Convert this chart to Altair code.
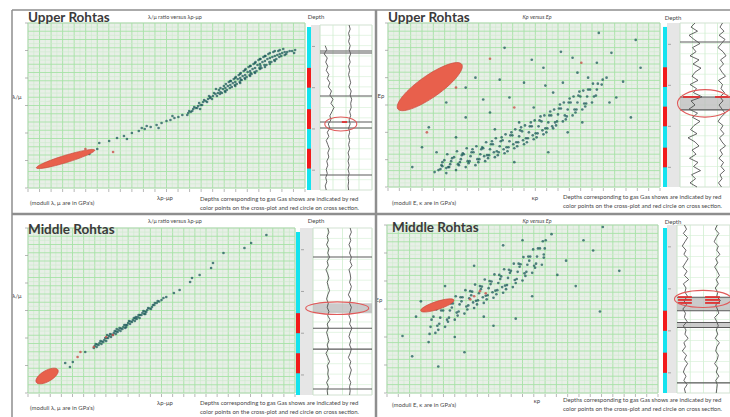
import altair as alt
import numpy as np
import pandas as pd

FONT = "Lato"

# ---------------- shared domains ----------------
XDOM = [0, 28]
YDOM = [0, 16.5]
DDOM = [0, 100]
LDOM = [0, 100]

XGRID = list(np.linspace(0, 28, 25))
XGRID_MINOR = [(a + b) / 2 for a, b in zip(XGRID[:-1], XGRID[1:])]
YGRID = list(np.linspace(0, 16.5, 21))
YGRID_MINOR = [(a + b) / 2 for a, b in zip(YGRID[:-1], YGRID[1:])]
YTICKS = list(np.linspace(0, 16.5, 7))
LGRID_V = [0, 25, 50, 75, 100]
LGRID_H = list(np.linspace(0, 100, 17))
DTICKS = [13, 38, 63, 88]

DEPTH = [0, 2.5, 5, 7.5, 10, 12.5, 15, 17.5, 20, 22.5, 25, 27.5, 30, 32.5, 35, 37.5,
         40, 42.5, 45, 47.5, 50, 52.5, 55, 57.5, 60, 62.5, 65, 67.5, 70, 72.5, 75,
         77.5, 80, 82.5, 85, 87.5, 90, 92.5, 95, 97.5, 100]

# ---------------- panel A : Upper Rohtas, lambda/mu vs lambda-rho - mu-rho ----------------
A_PTS = [[7.2, 4.5], [8.2, 4.7], [9.0, 5.0], [9.7, 5.2], [10.5, 5.5], [11.2, 5.7], [11.8, 5.9],
         [12.4, 6.1], [13.0, 6.3], [13.5, 6.5], [14.0, 6.7], [14.4, 6.8], [14.8, 7.0], [15.2, 7.1],
         [15.6, 7.3], [12.0, 6.2], [13.2, 6.0], [14.6, 7.2], [7.0, 3.9], [6.2, 3.4], [10.0, 4.9], [11.5, 6.0],
         [16.2, 7.5], [16.1, 7.3], [16.3, 7.7], [16.7, 7.9], [16.6, 7.7], [16.8, 8.1],
         [17.2, 8.2], [17.1, 8.0], [17.3, 8.5], [17.4, 7.9], [17.7, 8.6], [17.6, 8.3], [17.8, 8.8],
         [18.2, 8.9], [18.1, 8.6], [18.3, 9.2], [18.4, 9.0], [18.7, 9.2], [18.6, 8.9], [18.8, 9.5],
         [19.2, 9.5], [19.1, 9.2], [19.3, 9.8], [19.4, 9.4], [19.0, 9.9],
         [19.7, 9.9], [19.6, 9.5], [19.8, 10.2], [19.9, 9.7],
         [20.2, 10.2], [20.1, 9.8], [20.3, 10.6], [20.4, 10.0], [20.0, 10.4],
         [20.7, 10.5], [20.6, 10.1], [20.8, 10.9], [20.9, 10.3], [20.5, 10.7],
         [21.2, 10.9], [21.1, 10.4], [21.3, 11.3], [21.4, 10.6], [21.0, 11.1], [21.5, 10.8],
         [21.7, 11.2], [21.6, 10.8], [21.8, 11.7], [21.9, 11.0], [21.5, 11.5],
         [22.2, 11.6], [22.1, 11.1], [22.3, 12.1], [22.4, 11.3], [22.0, 11.9], [22.5, 11.5],
         [22.7, 11.9], [22.6, 11.4], [22.8, 12.4], [22.9, 11.6], [22.5, 12.2],
         [23.2, 12.3], [23.1, 11.7], [23.3, 12.8], [23.4, 12.0], [23.0, 12.6], [23.5, 12.2],
         [23.7, 12.6], [23.6, 12.0], [23.8, 13.1], [23.9, 12.3], [23.5, 12.9],
         [24.2, 12.9], [24.1, 12.3], [24.3, 13.4], [24.4, 12.6], [24.0, 13.2],
         [24.7, 13.1], [24.6, 12.6], [24.8, 13.6], [24.9, 12.8],
         [25.2, 13.3], [25.1, 12.9], [25.3, 13.7], [25.4, 13.1],
         [25.7, 13.5], [25.6, 13.2], [25.8, 13.9], [26.2, 13.6], [26.1, 13.4], [26.7, 13.7],
         [16.45, 7.6], [16.95, 8.0], [17.45, 8.3], [17.95, 8.7], [18.45, 9.1], [18.95, 9.4],
         [19.45, 9.6], [19.45, 10.0], [19.95, 10.0], [19.95, 9.6], [20.45, 10.3], [20.45, 10.7],
         [20.95, 10.6], [20.95, 11.0], [20.95, 10.2], [21.45, 11.0], [21.45, 11.4], [21.45, 10.5],
         [21.95, 11.3], [21.95, 11.8], [21.95, 10.9], [22.45, 11.7], [22.45, 12.2], [22.45, 11.2],
         [22.95, 12.0], [22.95, 12.5], [22.95, 11.5], [23.45, 12.4], [23.45, 12.9], [23.45, 11.9],
         [23.95, 12.7], [23.95, 13.2], [23.95, 12.1], [24.45, 13.0], [24.45, 13.5], [24.45, 12.4],
         [24.95, 13.2], [24.95, 13.7], [24.95, 12.7], [25.45, 13.4], [25.45, 13.8], [25.95, 13.6],
         [25.95, 13.3], [26.45, 13.7], [27.0, 13.8], [26.9, 13.5]]
A_RED = [[5.8, 3.9], [8.6, 3.6]]
A_ELL = [3.8, 2.9]
A_GAS = [[26, 38], [51, 63], [75, 87]]
A_LOG1 = [None, None, None, None, None, 10, 13, 8, 14, 11, 15, 12, 17, 14, 19, 16, 22, 19, 25, 21,
          27, 23, 19, 21, 16, 19, 14, 17, 12, 15, 18, 15, 17, 13, 15, 12, 14, 11, 13, 10, 12]
A_LOG2 = [56, 58, 55, 57, 55, 58, 56, 59, 56, 58, 55, 57, 55, 57, 59, 56, 60, 58, 61, 59,
          60, 57, 59, 56, 58, 55, 57, 55, 57, 55, 57, 54, 56, 54, 56, 54, 56, 54, 55, 54, 55]
A_MARKS = [15.8, 17, 43, 58.8, 62.4, 90.9]
A_BANDS = []
A_REDSEG = [[58.8, 42, 52]]
A_LELL = [40, 60]

# ---------------- panel B : Upper Rohtas, K-rho vs E-rho ----------------
B_PTS = [[5.2, 1.7], [5.6, 2.1], [4.8, 1.5], [6.0, 1.9],
         [5.5, 2.2], [5.6, 2.5], [5.4, 1.8], [6.5, 2.6], [6.4, 2.3], [6.6, 2.9], [6.3, 2.0],
         [7.5, 2.8], [7.4, 2.5], [7.6, 3.2], [7.3, 2.2], [7.7, 3.4],
         [8.5, 3.1], [8.4, 2.6], [8.6, 3.5], [8.3, 2.4], [8.7, 3.8],
         [9.5, 3.3], [9.4, 2.8], [9.6, 3.8], [9.3, 2.5], [9.7, 4.0], [9.9, 3.1],
         [10.5, 3.8], [10.4, 3.2], [10.6, 4.3], [10.3, 2.9], [10.7, 4.6], [10.9, 3.5],
         [11.5, 4.1], [11.4, 3.5], [11.6, 4.6], [11.3, 3.2], [11.7, 5.0], [11.9, 3.8],
         [12.5, 4.6], [12.4, 4.0], [12.6, 5.2], [12.3, 3.6], [12.7, 5.5], [12.9, 4.3],
         [13.5, 5.1], [13.4, 4.5], [13.6, 5.7], [13.3, 4.1], [13.7, 6.0], [13.9, 4.7],
         [14.5, 5.5], [14.4, 4.9], [14.6, 6.1], [14.3, 4.5], [14.7, 6.5], [14.9, 5.2],
         [15.5, 6.1], [15.4, 5.4], [15.6, 6.7], [15.3, 5.0], [15.7, 7.1], [15.9, 5.7],
         [16.5, 6.5], [16.4, 5.9], [16.6, 7.2], [16.3, 5.5], [16.7, 7.6], [16.9, 6.1],
         [17.5, 7.3], [17.4, 6.6], [17.6, 7.9], [17.3, 6.2], [17.7, 8.3],
         [18.5, 7.8], [18.4, 7.1], [18.6, 8.5], [18.3, 6.8], [18.7, 8.9],
         [19.5, 8.5], [19.4, 7.8], [19.6, 9.2], [19.3, 7.5], [19.7, 9.6],
         [20.5, 9.1], [20.4, 8.4], [20.6, 9.8], [20.3, 8.1], [21.5, 9.8], [21.4, 9.2], [21.6, 10.4],
         [22.0, 10.3], [22.1, 10.8],
         [6.0, 1.4], [6.2, 2.0], [5.8, 2.7], [6.1, 3.3], [7.0, 1.7], [7.2, 2.3], [6.8, 3.0], [7.1, 3.6],
         [8.0, 2.0], [8.2, 2.6], [7.8, 3.3], [8.1, 3.9], [9.0, 2.2], [9.2, 2.8], [8.8, 3.5], [9.1, 4.1],
         [10.0, 2.6], [10.2, 3.2], [9.8, 3.9], [10.1, 4.5], [11.0, 3.0], [11.2, 3.6], [10.8, 4.3], [11.1, 4.9],
         [12.0, 3.4], [12.2, 4.0], [11.8, 4.7], [12.1, 5.3], [13.0, 3.9], [13.2, 4.5], [12.8, 5.2], [13.1, 5.8],
         [14.0, 4.3], [14.2, 4.9], [13.8, 5.6], [14.1, 6.2], [15.0, 4.8], [15.2, 5.4], [14.8, 6.1], [15.1, 6.7],
         [16.0, 5.3], [16.2, 5.9], [15.8, 6.6], [16.1, 7.2], [17.0, 5.9], [17.2, 6.5], [16.8, 7.2], [17.1, 7.8],
         [18.0, 6.6], [18.2, 7.2], [17.8, 7.9], [18.1, 8.5], [19.0, 7.2], [19.2, 7.8], [18.8, 8.5], [19.1, 9.1],
         [20.0, 7.8], [20.2, 8.4], [19.8, 9.1], [20.1, 9.7], [21.0, 8.5], [21.2, 9.1], [20.8, 9.8], [21.1, 10.4],
         [3.5, 4.0], [4.2, 6.0], [5.0, 3.5], [6.0, 8.5], [7.0, 5.0], [8.0, 7.0], [9.0, 11.0],
         [10.5, 7.5], [11.0, 5.8], [12.5, 9.0], [13.5, 6.5], [14.0, 10.5], [15.0, 8.0], [16.0, 12.0],
         [17.0, 9.5], [18.0, 10.5], [18.5, 5.5], [19.5, 11.5], [20.0, 6.5], [21.5, 12.5], [22.5, 11.0],
         [23.5, 9.0], [24.2, 10.6], [25.5, 14.8], [21.7, 15.5], [23.0, 13.5], [26.0, 12.0], [19.0, 13.0],
         [12.0, 14.0], [8.0, 10.0], [25.0, 7.0], [2.5, 2.0], [16.5, 3.5], [13.0, 2.5],
         [14.8, 12.8], [17.8, 13.6], [20.6, 11.0], [22.8, 8.5], [16.2, 10.2], [11.5, 10.8], [9.8, 8.8]]
B_RED = [[10.5, 12.9], [19.9, 12.5], [7.0, 10.0], [4.0, 5.5], [13.0, 8.0]]
B_ELL = [4.3, 10.1]
B_GAS = [[27, 39], [51, 63], [76, 88]]
B_LOG1 = [30, 22, 35, 18, 28, 40, 25, 32, 20, 38, 26, 42, 30, 24, 36, 20, 33, 27, 44, 22,
          30, 18, 35, 25, 40, 28, 21, 34, 16, 30, 38, 24, 32, 19, 36, 27, 41, 23, 31, 20, 34]
B_LOG2 = [85, 80, 88, 78, 90, 83, 76, 86, 92, 81, 87, 79, 84, 91, 77, 85, 82, 89, 80, 86,
          78, 84, 90, 82, 76, 86, 81, 88, 79, 84, 91, 80, 85, 78, 87, 82, 89, 80, 84, 77, 83]
B_MARKS = [11.6, 45.1, 53]
B_BANDS = [[45.1, 53]]
B_REDSEG = [[45.1, 6, 40], [45.1, 70, 100]]
B_LELL = [50, 49]

# ---------------- panel C : Middle Rohtas, lambda/mu vs lambda-rho - mu-rho ----------------
C_PTS = [[3.9, 3.0], [4.4, 2.6], [4.7, 3.1], [6.0, 4.1],
         [7.0, 4.7], [7.1, 4.9], [6.9, 4.5], [7.2, 4.6], [7.5, 5.0], [7.6, 5.2], [7.4, 4.8], [7.7, 4.9],
         [8.0, 5.3], [8.1, 5.5], [7.9, 5.1], [8.2, 5.2], [8.5, 5.7], [8.6, 5.9], [8.4, 5.5], [8.7, 5.6],
         [9.0, 6.0], [9.1, 6.2], [8.9, 5.8], [9.2, 5.9], [9.5, 6.3], [9.6, 6.5], [9.4, 6.1], [9.7, 6.2],
         [10.0, 6.6], [10.1, 6.8], [9.9, 6.4], [10.2, 6.5], [10.5, 7.0], [10.6, 7.2], [10.4, 6.8], [10.7, 6.9],
         [11.0, 7.3], [11.1, 7.5], [10.9, 7.1], [11.2, 7.2], [11.5, 7.6], [11.6, 7.8], [11.4, 7.4], [11.7, 7.5],
         [12.0, 8.0], [12.1, 8.2], [11.9, 7.8], [12.2, 7.9], [12.5, 8.3], [12.6, 8.5], [12.4, 8.1],
         [13.0, 8.6], [13.1, 8.8], [12.9, 8.4], [13.5, 9.0], [13.6, 9.2], [14.0, 9.3], [14.5, 9.6], [14.2, 9.5],
         [7.25, 4.85], [7.75, 5.15], [8.25, 5.5], [8.75, 5.85], [9.25, 6.15], [9.75, 6.45], [10.25, 6.8],
         [10.75, 7.15], [11.25, 7.45], [11.75, 7.8], [12.25, 8.15], [12.75, 8.45], [13.25, 8.8], [13.75, 9.15],
         [8.3, 5.8], [9.3, 6.4], [10.3, 6.6], [11.3, 7.6], [12.3, 7.9], [13.3, 9.0],
         [15.9, 10.3], [17.2, 11.5], [17.0, 11.1], [19.2, 12.5], [19.4, 13.0], [20.5, 14.0], [22.7, 14.5],
         [23.4, 15.0], [25.0, 15.8], [18.0, 11.8], [15.3, 10.0]]
C_RED = [[5.2, 3.6], [5.5, 4.1], [6.9, 4.6], [8.2, 5.6], [8.9, 5.8]]
C_ELL = [2.0, 1.7]
C_GAS = [[51, 63], [75, 87]]
C_LOG1 = [25, 27, 24, 26, 23, 27, 25, 28, 24, 26, 22, 25, 27, 24, 26, 28, 25, 23, 26, 24,
          27, 25, 29, 24, 26, 23, 25, 27, 24, 26, 22, 25, 28, 24, 26, 25, 27, 23, 26, 24, 25]
C_LOG2 = [63, 65, 62, 64, 61, 64, 62, 65, 63, 66, 61, 63, 64, 62, 65, 63, 60, 64, 62, 65,
          63, 61, 64, 62, 66, 63, 61, 64, 62, 65, 63, 60, 64, 62, 65, 63, 61, 64, 62, 63, 62]
C_MARKS = [17.4, 60, 72.5, 96.4]
C_BANDS = [[45, 51]]
C_REDSEG = []
C_LELL = [41, 48]

# ---------------- panel D : Middle Rohtas, K-rho vs E-rho ----------------
D_PTS = [[4.5, 6.5], [4.6, 7.2], [4.4, 5.8], [5.5, 7.4], [5.4, 6.8], [5.6, 8.1], [5.3, 6.2],
         [6.5, 8.1], [6.4, 7.4], [6.6, 8.8], [6.3, 7.0], [6.7, 8.4],
         [7.5, 8.7], [7.4, 8.0], [7.6, 9.4], [7.3, 7.6], [7.7, 9.0],
         [8.5, 9.3], [8.4, 8.6], [8.6, 10.0], [8.3, 8.2], [8.7, 9.6], [8.9, 8.9],
         [9.5, 9.8], [9.4, 9.1], [9.6, 10.5], [9.3, 8.7], [9.7, 10.2], [9.9, 9.4],
         [10.5, 10.3], [10.4, 9.6], [10.6, 11.0], [10.3, 9.2], [10.7, 10.7], [10.9, 9.9],
         [11.5, 10.8], [11.4, 10.1], [11.6, 11.6], [11.3, 9.7], [11.7, 11.2], [11.9, 10.4],
         [12.5, 11.3], [12.4, 10.6], [12.6, 12.1], [12.3, 10.2], [12.7, 11.8],
         [13.5, 11.9], [13.4, 11.2], [13.6, 12.7], [13.3, 10.8], [13.7, 12.4],
         [14.5, 12.6], [14.4, 11.9], [14.6, 13.4], [14.3, 11.5], [14.7, 13.0],
         [15.5, 13.4], [15.4, 12.7], [15.6, 14.2], [15.3, 12.3], [16.3, 14.2], [16.2, 13.6], [16.4, 15.0],
         [5.0, 5.9], [5.2, 6.6], [4.8, 7.5], [5.1, 8.2], [6.0, 6.5], [6.2, 7.2], [5.8, 8.1], [6.1, 8.8],
         [7.0, 7.2], [7.2, 7.9], [6.8, 8.8], [7.1, 9.5], [8.0, 7.8], [8.2, 8.5], [7.8, 9.4], [8.1, 10.1],
         [9.0, 8.35], [9.2, 9.05], [8.8, 9.95], [9.1, 10.65], [10.0, 8.85], [10.2, 9.55], [9.8, 10.45], [10.1, 11.15],
         [11.0, 9.35], [11.2, 10.05], [10.8, 10.95], [11.1, 11.65], [12.0, 9.85], [12.2, 10.55], [11.8, 11.45],
         [12.1, 12.15], [13.0, 10.4], [13.2, 11.1], [12.8, 12.0], [13.1, 12.7], [14.0, 11.05], [14.2, 11.75],
         [13.8, 12.65], [14.1, 13.35], [15.0, 11.8], [15.2, 12.5], [14.8, 13.4], [15.1, 14.1],
         [16.0, 12.6], [16.2, 13.3], [15.8, 14.2], [16.1, 14.9],
         [21.3, 14.0], [22.3, 16.3], [20.3, 15.0], [1.6, 5.6], [2.6, 3.6], [4.3, 5.0], [17.6, 11.6],
         [13.3, 7.3], [5.3, 2.6], [17.0, 15.6], [11.0, 6.6], [3.0, 7.5], [7.0, 5.5], [9.0, 12.5],
         [12.0, 14.5], [18.5, 13.0], [19.5, 10.5], [24.0, 12.0], [15.0, 9.5], [6.0, 10.5], [8.0, 4.0],
         [22.0, 8.0], [10.0, 7.5], [14.0, 15.0], [3.5, 9.0]]
D_RED = [[9.0, 9.5], [9.6, 10.0], [10.2, 9.8], [8.6, 9.2]]
D_ELL = [5.2, 8.6]
D_GAS = [[51, 63], [76, 88]]
D_LOG1 = [14, 18, 12, 20, 15, 10, 17, 13, 21, 16, 11, 19, 14, 22, 12, 17, 15, 20, 13, 18,
          11, 16, 14, 19, 12, 17, 15, 21, 13, 16, 10, 18, 14, 20, 15, 12, 17, 13, 19, 14, 16]
D_LOG2 = [76, 72, 79, 74, 70, 78, 75, 81, 73, 77, 71, 76, 80, 74, 78, 72, 77, 75, 82, 73,
          76, 79, 71, 75, 78, 74, 77, 72, 80, 75, 73, 78, 76, 71, 77, 74, 79, 73, 76, 75, 74]
D_MARKS = [43, 51, 58, 61, 94]
D_BANDS = [[43, 51], [58, 61]]
D_REDSEG = [[42.9, 2, 28], [44.6, 2, 28], [46.4, 2, 28], [42.9, 53, 81], [44.6, 53, 81], [46.4, 53, 81]]
D_LELL = [49, 44]

LM_TEXT = dict(sub="λ/μ ratio versus λρ-μρ", ylab="λ/μ", xlab="λρ-μρ",
               moduli="(moduli λ, μ are in GPa's)", sub_style="normal")
KE_TEXT = dict(sub="Kρ versus Eρ", ylab="Eρ", xlab="κρ",
               moduli="(moduli E, κ are in GPa's)", sub_style="italic")
NOTE1 = "Depths corresponding to gas Gas shows are indicated by red"
NOTE2 = "color points on the cross-plot and red circle on cross section."

PANELS = [
    dict(title="Upper Rohtas", txt=LM_TEXT, pts=A_PTS, red=A_RED, ell=A_ELL, gas=A_GAS, log1=A_LOG1,
         log2=A_LOG2, marks=A_MARKS, bands=A_BANDS, redseg=A_REDSEG, lell=A_LELL,
         geo=dict(px=(28, 305), py=(188, 23), strip=(307, 311), stop=1.2, dcol=(311, 320),
                  lx=(320, 372), ly=(25, 190), ell=(3721, 0.12, 343), lel=(1024, 0.44),
                  t=dict(title=(28, 21.5), sub=(175, 17), depth=(316, 17), ylab=(17, 97), xlab=(165, 198),
                         mod=(30, 203), n1=(200, 199), n2=(200, 207.5)))),
    dict(title="Upper Rohtas", txt=KE_TEXT, pts=B_PTS, red=B_RED, ell=B_ELL, gas=B_GAS, log1=B_LOG1,
         log2=B_LOG2, marks=B_MARKS, bands=B_BANDS, redseg=B_REDSEG, lell=B_LELL,
         geo=dict(px=(388, 660), py=(187, 23), strip=(663, 667), stop=2.4, dcol=(667, 680),
                  lx=(680, 730), ly=(23, 187), ell=(6084, 0.28, 325), lel=(3025, 0.5),
                  t=dict(title=(388, 22), sub=(537, 17), depth=(673, 18), ylab=(381, 96), xlab=(535, 198),
                         mod=(392, 203), n1=(563, 197), n2=(563, 206)))),
    dict(title="Middle Rohtas", txt=LM_TEXT, pts=C_PTS, red=C_RED, ell=C_ELL, gas=C_GAS, log1=C_LOG1,
         log2=C_LOG2, marks=C_MARKS, bands=C_BANDS, redseg=C_REDSEG, lell=C_LELL,
         geo=dict(px=(28, 295), py=(393, 228), strip=(296, 300), stop=2.4, dcol=(300, 313),
                  lx=(313, 372), ly=(228, 395), ell=(625, 0.44, 330), lel=(3969, 0.2),
                  t=dict(title=(28, 234), sub=(175, 221), depth=(316, 221), ylab=(17, 296), xlab=(165, 403),
                         mod=(30, 408), n1=(200, 403), n2=(200, 412)))),
    dict(title="Middle Rohtas", txt=KE_TEXT, pts=D_PTS, red=D_RED, ell=D_ELL, gas=D_GAS, log1=D_LOG1,
         log2=D_LOG2, marks=D_MARKS, bands=D_BANDS, redseg=D_REDSEG, lell=D_LELL,
         geo=dict(px=(387, 658), py=(393, 225), strip=(663, 667), stop=1.8, dcol=(667, 677),
                  lx=(677, 730), ly=(225, 393), ell=(1225, 0.23, 342), lel=(3249, 0.3),
                  t=dict(title=(392, 232), sub=(537, 221), depth=(673, 222), ylab=(379, 300), xlab=(537, 401),
                         mod=(392, 405), n1=(563, 400), n2=(563, 409)))),
]

DUMMY = alt.Data(values=[{}])


def sc(dom, rng):
    return alt.Scale(domain=list(dom), range=list(rng), nice=False, zero=False)


def ellpath(r):
    return f"M -1 0 A 1 {r} 0 1 1 1 0 A 1 {r} 0 1 1 -1 0 Z"


def txt(s, x, y, size=6, weight="normal", align="left", color="#474747", style="normal", baseline="middle"):
    return alt.Chart(DUMMY).mark_text(text=s, fontSize=size, fontWeight=weight, align=align,
                                      baseline=baseline, color=color, font=FONT, fontStyle=style
                                      ).encode(x=alt.value(x), y=alt.value(y))


def panel_layers(p):
    g = p["geo"]
    L = []
    xs, ys = sc(XDOM, g["px"]), sc(YDOM, g["py"])
    X = lambda f: alt.X(f, scale=xs, axis=None)
    Y = lambda f: alt.Y(f, scale=ys, axis=None)

    # plot background
    bg = pd.DataFrame({"x0": [XDOM[0]], "x1": [XDOM[1]], "y0": [YDOM[0]], "y1": [YDOM[1]]})
    L.append(alt.Chart(bg).mark_rect(fill="#e8efe7", stroke="#cfcfcf", strokeWidth=0.8)
             .encode(x=X("x0:Q"), x2="x1:Q", y=Y("y0:Q"), y2="y1:Q"))
    # grid
    for vals, col, w in [(XGRID_MINOR, "#cdebcd", 0.6), (XGRID, "#a6e2a6", 0.9)]:
        df = pd.DataFrame({"g": vals, "a": YDOM[0], "b": YDOM[1]})
        L.append(alt.Chart(df).mark_rule(color=col, strokeWidth=w)
                 .encode(x=X("g:Q"), y=Y("a:Q"), y2="b:Q"))
    for vals, col, w in [(YGRID_MINOR, "#cdebcd", 0.6), (YGRID, "#a6e2a6", 0.9)]:
        df = pd.DataFrame({"g": vals, "a": XDOM[0], "b": XDOM[1]})
        L.append(alt.Chart(df).mark_rule(color=col, strokeWidth=w)
                 .encode(y=Y("g:Q"), x=X("a:Q"), x2="b:Q"))
    # ticks
    L.append(alt.Chart(pd.DataFrame({"t": YTICKS})).mark_rule(color="#9a9a9a", strokeWidth=0.7)
             .encode(x=alt.value(g["px"][0] - 3), x2=alt.value(g["px"][0]), y=Y("t:Q")))
    L.append(alt.Chart(pd.DataFrame({"t": XGRID})).mark_rule(color="#9a9a9a", strokeWidth=0.7)
             .encode(y=alt.value(g["py"][0] + 1), y2=alt.value(g["py"][0] + 4), x=X("t:Q")))
    # points
    pts = pd.DataFrame(p["pts"], columns=["x", "y"])
    L.append(alt.Chart(pts).mark_circle(size=7, color="#1b5a5a", opacity=0.75)
             .encode(x=X("x:Q"), y=Y("y:Q")))
    red = pd.DataFrame(p["red"], columns=["x", "y"])
    L.append(alt.Chart(red).mark_circle(size=7, color="#c9504a", opacity=0.8)
             .encode(x=X("x:Q"), y=Y("y:Q")))
    # gas-show ellipse
    es, er, ea = g["ell"]
    ell = pd.DataFrame([p["ell"]], columns=["x", "y"])
    L.append(alt.Chart(ell).mark_point(shape=ellpath(er), size=es, angle=ea, filled=True, fill="#e8604c",
                                       stroke="#c9443a", strokeWidth=0.6, opacity=1)
             .encode(x=X("x:Q"), y=Y("y:Q")))

    # depth strip + track
    ds, ls = sc(DDOM, g["ly"]), sc(LDOM, g["lx"])
    D = lambda f: alt.Y(f, scale=ds, axis=None)
    V = lambda f: alt.X(f, scale=ls, axis=None)
    col = pd.DataFrame({"a": [0], "b": [100]})
    L.append(alt.Chart(col).mark_rect(color="#e6e6e6")
             .encode(x=alt.value(g["dcol"][0]), x2=alt.value(g["dcol"][1]), y=D("a:Q"), y2="b:Q"))
    L.append(alt.Chart(pd.DataFrame({"t": DTICKS})).mark_rule(color="#8a8a8a", strokeWidth=0.7)
             .encode(x=alt.value(g["dcol"][0] + 1), x2=alt.value(g["dcol"][0] + 4), y=D("t:Q")))
    strip = pd.DataFrame({"a": [g["stop"]], "b": [100]})
    L.append(alt.Chart(strip).mark_rect(color="#14e3ef")
             .encode(x=alt.value(g["strip"][0]), x2=alt.value(g["strip"][1]), y=D("a:Q"), y2="b:Q"))
    gas = pd.DataFrame(p["gas"], columns=["a", "b"])
    L.append(alt.Chart(gas).mark_rect(color="#f21b1b")
             .encode(x=alt.value(g["strip"][0]), x2=alt.value(g["strip"][1]), y=D("a:Q"), y2="b:Q"))

    # log track
    tb = pd.DataFrame({"a": [0], "b": [100], "v0": [0], "v1": [100]})
    L.append(alt.Chart(tb).mark_rect(fill="white", stroke="#d0d0d0", strokeWidth=0.6)
             .encode(x=V("v0:Q"), x2="v1:Q", y=D("a:Q"), y2="b:Q"))
    L.append(alt.Chart(pd.DataFrame({"g": LGRID_V, "a": 0, "b": 100})).mark_rule(color="#c8ecc8", strokeWidth=0.7)
             .encode(x=V("g:Q"), y=D("a:Q"), y2="b:Q"))
    L.append(alt.Chart(pd.DataFrame({"g": LGRID_H, "a": 0, "b": 100})).mark_rule(color="#d4efd4", strokeWidth=0.6)
             .encode(y=D("g:Q"), x=V("a:Q"), x2="b:Q"))
    if p["bands"]:
        bd = pd.DataFrame(p["bands"], columns=["a", "b"]).assign(v0=0, v1=100)
        L.append(alt.Chart(bd).mark_rect(color="#b9b9b9", opacity=0.75)
                 .encode(x=V("v0:Q"), x2="v1:Q", y=D("a:Q"), y2="b:Q"))
    for key in ["log1", "log2"]:
        lg = pd.DataFrame({"d": DEPTH, "v": p[key]})
        L.append(alt.Chart(lg).mark_line(color="#404040", strokeWidth=0.8)
                 .encode(x=V("v:Q"), y=D("d:Q"), order="d:Q"))
    mk = pd.DataFrame({"d": p["marks"], "a": 0, "b": 100})
    L.append(alt.Chart(mk).mark_rule(color="#5a5a5a", strokeWidth=1.1)
             .encode(y=D("d:Q"), x=V("a:Q"), x2="b:Q"))
    if p["redseg"]:
        rs = pd.DataFrame(p["redseg"], columns=["d", "a", "b"])
        L.append(alt.Chart(rs).mark_rule(color="#e03030", strokeWidth=1.8)
                 .encode(y=D("d:Q"), x=V("a:Q"), x2="b:Q"))
    le = pd.DataFrame([p["lell"]], columns=["v", "d"])
    ls_, lr = g["lel"]
    L.append(alt.Chart(le).mark_point(shape=ellpath(lr), size=ls_, filled=False, stroke="#e05a5a",
                                      strokeWidth=1.1, opacity=1)
             .encode(x=V("v:Q"), y=D("d:Q")))

    # texts
    t = g["t"]
    T = p["txt"]
    L.append(txt(p["title"], *t["title"], size=13.5, weight="bold", color="#3a3a3a", baseline="alphabetic"))
    L.append(txt(T["sub"], *t["sub"], size=5.5, align="center", style=T["sub_style"]))
    L.append(txt("Depth", *t["depth"], size=6, align="center"))
    L.append(txt(T["ylab"], *t["ylab"], size=6, align="center"))
    L.append(txt(T["xlab"], *t["xlab"], size=6, align="center"))
    L.append(txt(T["moduli"], *t["mod"], size=6))
    L.append(txt(NOTE1, *t["n1"], size=6))
    L.append(txt(NOTE2, *t["n2"], size=6))
    return L


layers = []
for p in PANELS:
    layers += panel_layers(p)


def frame(**enc):
    w = enc.pop("w", 1.5)
    return alt.Chart(DUMMY).mark_rule(color="#8e8e8e", strokeWidth=w).encode(
        **{k: alt.value(v) for k, v in enc.items()})


layers += [
    frame(x=12, x2=730, y=10),
    frame(x=12, y=10, y2=417),
    frame(x=376, y=10, y2=417, w=2.5),
    frame(x=12, x2=730, y=214, w=2.5),
]

chart = (alt.layer(*layers)
         .resolve_scale(x="independent", y="independent")
         .properties(width=730, height=417, padding=0, background="white",
                     autosize=alt.AutoSizeParams(type="none"))
         .configure_view(stroke=None))

chart.save("out.html", embed_options={"renderer": "svg", "actions": False})
